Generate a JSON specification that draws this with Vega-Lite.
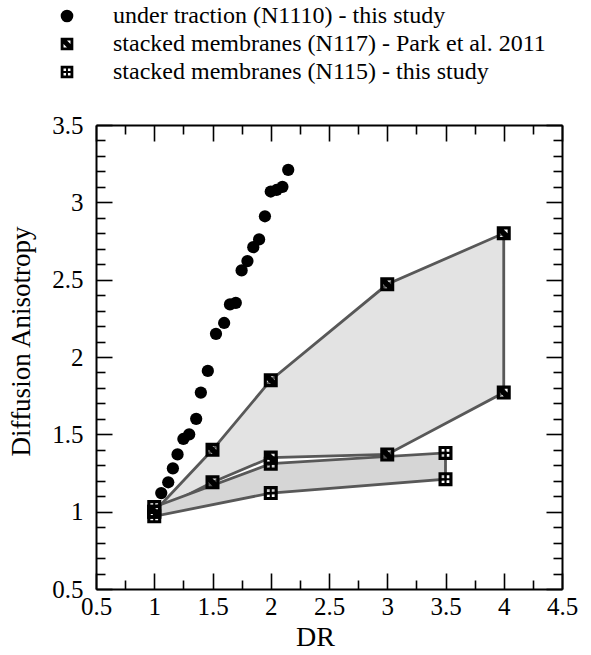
{
  "$schema": "https://vega.github.io/schema/vega-lite/v6.json",
  "autosize": {"type": "none"},
  "width": 466,
  "height": 464,
  "padding": {"left": 96, "top": 125, "right": 29, "bottom": 66},
  "background": "white",
  "config": {
    "view": {"stroke": null},
    "font": "Liberation Serif",
    "legend": {"labelFont": "'Liberation Serif', 'Times New Roman', serif", "labelFontSize": 24, "labelColor": "black", "labelFontStyle": "normal", "labelFontWeight": "normal"},
    "axis": {
      "labelFont": "Liberation Serif",
      "titleFont": "Liberation Serif",
      "labelColor": "black",
      "titleColor": "black",
      "domainColor": "black",
      "domainWidth": 2,
      "tickColor": "black",
      "tickWidth": 1.6,
      "grid": false,
      "labelFlush": false,
      "labelOverlap": false,
      "titleFontWeight": "normal"
    }
  },
  "datasets": {
    "traction": [
      {"DR": 1.06, "DA": 1.12}, {"DR": 1.12, "DA": 1.19}, {"DR": 1.16, "DA": 1.28},
      {"DR": 1.2, "DA": 1.37}, {"DR": 1.25, "DA": 1.47}, {"DR": 1.3, "DA": 1.5},
      {"DR": 1.36, "DA": 1.6}, {"DR": 1.4, "DA": 1.77}, {"DR": 1.46, "DA": 1.91},
      {"DR": 1.53, "DA": 2.15}, {"DR": 1.6, "DA": 2.22}, {"DR": 1.65, "DA": 2.34},
      {"DR": 1.7, "DA": 2.35}, {"DR": 1.75, "DA": 2.56}, {"DR": 1.8, "DA": 2.62},
      {"DR": 1.85, "DA": 2.71}, {"DR": 1.9, "DA": 2.76}, {"DR": 1.95, "DA": 2.91},
      {"DR": 2.0, "DA": 3.07}, {"DR": 2.05, "DA": 3.08}, {"DR": 2.1, "DA": 3.1},
      {"DR": 2.15, "DA": 3.21}
    ],
    "n117": [
      {"series": "stacked membranes (N117) - Park et al. 2011", "DR": 1, "upper": 1.0, "lower": 1.0},
      {"series": "stacked membranes (N117) - Park et al. 2011", "DR": 1.5, "upper": 1.4, "lower": 1.19},
      {"series": "stacked membranes (N117) - Park et al. 2011", "DR": 2, "upper": 1.85, "lower": 1.35},
      {"series": "stacked membranes (N117) - Park et al. 2011", "DR": 3, "upper": 2.47, "lower": 1.37},
      {"series": "stacked membranes (N117) - Park et al. 2011", "DR": 4, "upper": 2.8, "lower": 1.77}
    ],
    "n115": [
      {"series": "stacked membranes (N115) - this study", "DR": 1, "upper": 1.03, "lower": 0.97},
      {"series": "stacked membranes (N115) - this study", "DR": 2, "upper": 1.31, "lower": 1.12},
      {"series": "stacked membranes (N115) - this study", "DR": 3.5, "upper": 1.38, "lower": 1.21}
    ]
  },
  "resolve": {"axis": {"x": "independent", "y": "independent"}},
  "layer": [
    {
      "data": {"name": "n117"},
      "mark": {"type": "area", "fill": "#e3e3e3", "stroke": "#585858", "strokeWidth": 2.8, "opacity": 1},
      "encoding": {
        "x": {
          "field": "DR", "type": "quantitative",
          "scale": {"domain": [0.5, 4.5], "nice": false, "zero": false},
          "axis": {
            "orient": "bottom",
            "title": "DR",
            "titleFontSize": 28,
            "titlePadding": -3,
            "titleX": 219,
            "values": [0.5,0.75,1,1.25,1.5,1.75,2,2.25,2.5,2.75,3,3.25,3.5,3.75,4,4.25,4.5],
            "format": ".2~f",
            "labelExpr": "abs(datum.value*2 - round(datum.value*2)) < 0.000001 ? datum.label : ''",
            "labelFontSize": 25,
            "labelPadding": 21,
            "tickSize": {"condition": {"test": "abs(datum.value*2 - round(datum.value*2)) < 0.000001", "value": -16}, "value": -9}
          }
        },
        "y": {
          "field": "upper", "type": "quantitative",
          "scale": {"domain": [0.5, 3.5], "nice": false, "zero": false},
          "axis": {
            "orient": "left",
            "title": "Diffusion Anisotropy",
            "titleFontSize": 27,
            "titlePadding": 16,
            "titleY": 216,
            "values": [0.5,0.6,0.7,0.8,0.9,1,1.1,1.2,1.3,1.4,1.5,1.6,1.7,1.8,1.9,2,2.1,2.2,2.3,2.4,2.5,2.6,2.7,2.8,2.9,3,3.1,3.2,3.3,3.4,3.5],
            "format": ".2~f",
            "labelExpr": "abs(datum.value*2 - round(datum.value*2)) < 0.000001 ? datum.label : ''",
            "labelFontSize": 25,
            "labelPadding": 29,
            "tickSize": {"condition": {"test": "abs(datum.value*2 - round(datum.value*2)) < 0.000001", "value": -16}, "value": -9}
          }
        },
        "y2": {"field": "lower"}
      }
    },
    {
      "data": {"name": "n115"},
      "mark": {"type": "area", "fill": "#d6d6d6", "stroke": "#585858", "strokeWidth": 2.8, "opacity": 1},
      "encoding": {
        "x": {
          "field": "DR", "type": "quantitative",
          "axis": {
            "orient": "top",
            "title": null,
            "labels": false,
            "values": [0.5,0.75,1,1.25,1.5,1.75,2,2.25,2.5,2.75,3,3.25,3.5,3.75,4,4.25,4.5],
            "tickSize": {"condition": {"test": "abs(datum.value*2 - round(datum.value*2)) < 0.000001", "value": -16}, "value": -9}
          }
        },
        "y": {
          "field": "upper", "type": "quantitative",
          "axis": {
            "orient": "right",
            "title": null,
            "labels": false,
            "values": [0.5,0.6,0.7,0.8,0.9,1,1.1,1.2,1.3,1.4,1.5,1.6,1.7,1.8,1.9,2,2.1,2.2,2.3,2.4,2.5,2.6,2.7,2.8,2.9,3,3.1,3.2,3.3,3.4,3.5],
            "tickSize": {"condition": {"test": "abs(datum.value*2 - round(datum.value*2)) < 0.000001", "value": -16}, "value": -9}
          }
        },
        "y2": {"field": "lower"}
      }
    },
    {
      "data": {"name": "traction"},
      "mark": {"type": "point", "filled": true, "color": "black", "opacity": 1, "size": 150, "strokeWidth": 0},
      "encoding": {
        "x": {"field": "DR", "type": "quantitative", "axis": null},
        "y": {"field": "DA", "type": "quantitative", "axis": null},
        "shape": {"datum": "under traction (N1110) - this study", "legend": {"labelFont": "'Liberation Serif', serif"}}
      }
    },
    {
      "data": {"name": "n117"},
      "transform": [{"fold": ["upper", "lower"], "as": ["bound", "DA"]}],
      "mark": {"type": "point", "filled": true, "color": "black", "opacity": 1, "size": 196, "strokeWidth": 0},
      "encoding": {
        "x": {"field": "DR", "type": "quantitative", "axis": null},
        "y": {"field": "DA", "type": "quantitative", "axis": null},
        "shape": {
          "field": "series", "type": "nominal",
          "scale": {
            "domain": ["under traction (N1110) - this study", "stacked membranes (N117) - Park et al. 2011", "stacked membranes (N115) - this study"],
            "range": [
              "circle",
              "M-1,-1H1V1H-1Z M0,-0.55L0.55,0L0.55,-0.55Z M-0.55,0L-0.55,0.55L0,0.55Z",
              "M-1,-1H1V1H-1Z M-0.55,-0.55V-0.15H-0.15V-0.55Z M0.15,-0.55V-0.15H0.55V-0.55Z M-0.55,0.15V0.55H-0.15V0.15Z M0.15,0.15V0.55H0.55V0.15Z"
            ]
          },
          "legend": {
            "title": null,
            "orient": "none",
            "legendX": -41,
            "legendY": -121,
            "padding": 0,
            "symbolSize": 160,
            "symbolFillColor": "black",
            "symbolStrokeWidth": 0,
            "symbolOpacity": 1,
            "labelFont": "'Liberation Serif', serif",
            "labelFontSize": 24,
            "labelColor": "black",
            "labelLimit": 600,
            "labelOffset": 34,
            "rowPadding": 4
          }
        }
      }
    },
    {
      "data": {"name": "n115"},
      "transform": [{"fold": ["upper", "lower"], "as": ["bound", "DA"]}],
      "mark": {"type": "point", "filled": true, "color": "black", "opacity": 1, "size": 196, "strokeWidth": 0},
      "encoding": {
        "x": {"field": "DR", "type": "quantitative", "axis": null},
        "y": {"field": "DA", "type": "quantitative", "axis": null},
        "shape": {"field": "series", "type": "nominal", "legend": {"labelFont": "'Liberation Serif', serif"}}
      }
    }
  ]
}
